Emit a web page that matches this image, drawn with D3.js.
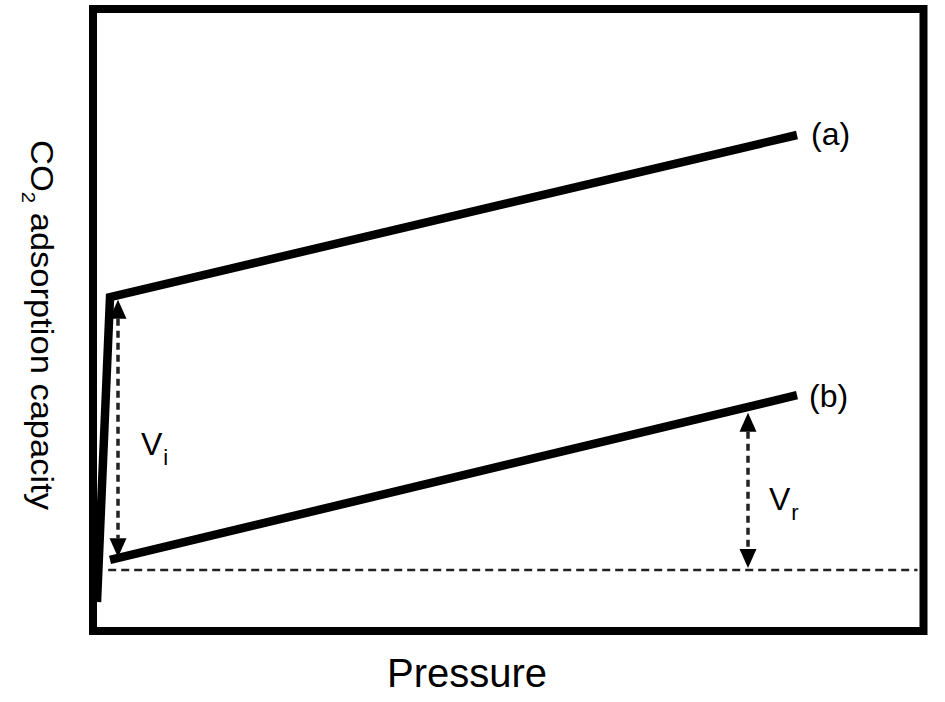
<!DOCTYPE html>
<html>
<head>
<meta charset="utf-8">
<script src="https://cdn.jsdelivr.net/npm/d3@7"></script>
<style>
  html, body { margin: 0; padding: 0; background: #fff; }
  svg { display: block; }
  text { font-family: "Liberation Sans", Arial, Helvetica, sans-serif; fill: #000; }
</style>
</head>
<body>
<svg id="chart" width="945" height="702"></svg>
<script>
// ---- data (pressure, capacity in arbitrary units) ----
const isothermA = [[0, 0], [1.86, 65.3], [100, 100]];   // (a) first adsorption run
const isothermB = [[1.86, 9.0], [100, 44.3]];           // (b) second run
const baselineY = 6.85;                                  // dashed reference level
const baselineX = [1.6, 117.5];
const arrowVi = { x: 3.0, y0: 9.6, y1: 64.7, label: "V", sub: "i" };
const arrowVr = { x: 93.0, y0: 7.3, y1: 40.5, label: "V", sub: "r" };
const seriesLabels = ["(a)", "(b)"];
const xTitle = "Pressure";
const yTitleMain = "CO";
const yTitleSub = "2";
const yTitleRest = " adsorption capacity";

// ---- layout ----
const svg = d3.select("#chart");
const frame = { x0: 93, y0: 9, x1: 923.5, y1: 631 };
const x = d3.scaleLinear().domain([0, 100]).range([97, 797]);
const y = d3.scaleLinear().domain([0, 100]).range([602, 135]);

// frame
svg.append("rect")
  .attr("x", frame.x0).attr("y", frame.y0)
  .attr("width", frame.x1 - frame.x0).attr("height", frame.y1 - frame.y0)
  .attr("fill", "none").attr("stroke", "#000").attr("stroke-width", 8);

const line = d3.line().x(d => x(d[0])).y(d => y(d[1]));

// dashed baseline
svg.append("line")
  .attr("x1", x(baselineX[0])).attr("x2", frame.x1 - 6)
  .attr("y1", y(baselineY)).attr("y2", y(baselineY))
  .attr("stroke", "#222").attr("stroke-width", 2.5)
  .attr("stroke-dasharray", "8,5");

// isotherms
svg.append("path").datum(isothermA).attr("d", line)
  .attr("fill", "none").attr("stroke", "#000").attr("stroke-width", 8.5)
  .attr("stroke-linejoin", "miter");
svg.append("path").datum(isothermB).attr("d", line)
  .attr("fill", "none").attr("stroke", "#000").attr("stroke-width", 8.5);

// double arrows
function dblArrow(a) {
  const cx = x(a.x), top = y(a.y1), bot = y(a.y0);
  const hw = 8.5, hh = 19;
  svg.append("line")
    .attr("x1", cx).attr("x2", cx)
    .attr("y1", top + hh).attr("y2", bot - hh)
    .attr("stroke", "#222").attr("stroke-width", 3.5)
    .attr("stroke-dasharray", "7,5");
  svg.append("path")
    .attr("d", `M${cx},${top} L${cx - hw},${top + hh} L${cx + hw},${top + hh} Z`)
    .attr("fill", "#000");
  svg.append("path")
    .attr("d", `M${cx},${bot} L${cx - hw},${bot - hh} L${cx + hw},${bot - hh} Z`)
    .attr("fill", "#000");
}
dblArrow(arrowVi);
dblArrow(arrowVr);

// arrow labels
function arrowLabel(a, tx, ty) {
  const t = svg.append("text").attr("x", tx).attr("y", ty)
    .style("font-size", "32px").text(a.label);
  t.append("tspan").attr("dx", 1).attr("dy", 10)
    .style("font-size", "22px").text(a.sub);
}
arrowLabel(arrowVi, 141, 455);
arrowLabel(arrowVr, 769, 510);

// series labels
svg.append("text").attr("x", x(100) + 14).attr("y", y(100) + 10)
  .style("font-size", "32px").text(seriesLabels[0]);
svg.append("text").attr("x", x(100) + 12).attr("y", y(isothermB[1][1]) + 12)
  .style("font-size", "32px").text(seriesLabels[1]);

// axis titles
svg.append("text").attr("x", 467).attr("y", 687)
  .attr("text-anchor", "middle")
  .style("font-size", "40px").text(xTitle);

const yt = svg.append("text")
  .attr("transform", "translate(31,140) rotate(90)")
  .attr("x", 0).attr("y", 0)
  .attr("textLength", 370).attr("lengthAdjust", "spacingAndGlyphs")
  .style("font-size", "32px");
yt.append("tspan").text(yTitleMain);
yt.append("tspan").attr("dy", 9).style("font-size", "19px").text(yTitleSub);
yt.append("tspan").attr("dy", -9).text(yTitleRest);
</script>
</body>
</html>
